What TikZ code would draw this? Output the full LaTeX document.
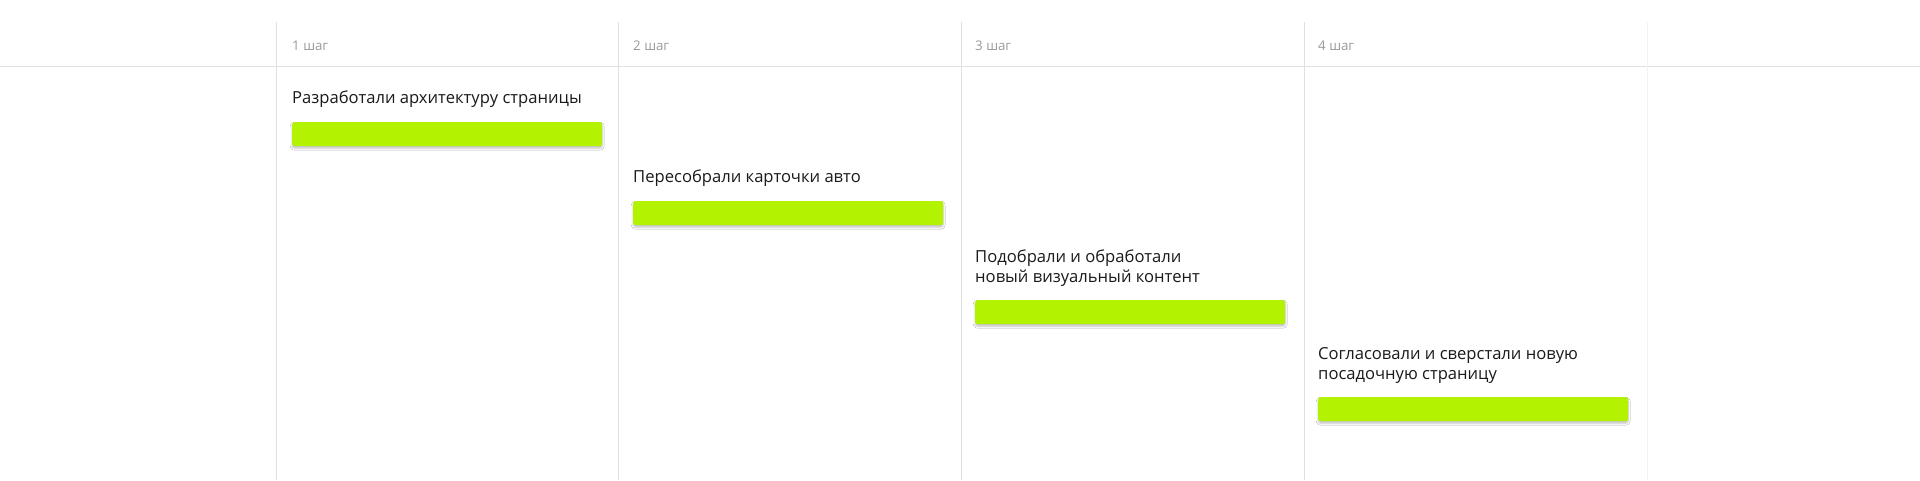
\documentclass[tikz,border=0pt]{standalone}
\usepackage{fontspec}
\setmainfont{Open Sans}
\usetikzlibrary{shadows.blur}
\definecolor{gridc}{HTML}{E0E0E0}
\definecolor{gridl}{HTML}{F2F2F2}
\definecolor{headc}{HTML}{9A9A9A}
\definecolor{textc}{HTML}{1A1A1A}
\definecolor{barc}{HTML}{B3F200}
\tikzset{
  gridline/.style={draw=gridc, line width=1pt},
  gridlight/.style={draw=gridl, line width=1pt},
  head/.style={anchor=base west, inner sep=0pt, text=headc, font=\fontsize{13.3}{16}\selectfont},
  task/.style={anchor=base west, inner sep=0pt, text=textc, align=left, font=\fontsize{16.6}{20}\selectfont},
  bar/.style={anchor=north west, inner sep=0pt, fill=barc, rounded corners=2.5pt,
    minimum width=310pt, minimum height=24pt,
    blur shadow={shadow xshift=0pt, shadow yshift=-2pt, shadow opacity=25, shadow blur steps=6, shadow blur radius=2pt}},
}
\begin{document}
\begin{tikzpicture}[x=1pt, y=-1pt]
\useasboundingbox (0,0) rectangle (1920,480);
\fill[white] (0,0) rectangle (1920,480);
% grid
\draw[gridline] (0,66) -- (1920,66);
\draw[gridline] (276,22) -- (276,480);
\draw[gridline] (618,22) -- (618,480);
\draw[gridline] (961,22) -- (961,480);
\draw[gridline] (1304,22) -- (1304,480);
\draw[gridlight] (1647,22) -- (1647,480);
% headers
\node[head] (h1) at (292,50) {1 шаг};
\node[head] (h2) at (633,50) {2 шаг};
\node[head] (h3) at (975,50) {3 шаг};
\node[head] (h4) at (1318,50) {4 шаг};
% tasks (multi-line nodes: base = last line)
\node[task] (t1) at (292,103) {Разработали архитектуру страницы};
\node[bar] (b1) at (292,122) {};
\node[task] (t2) at (633,182) {Пересобрали карточки авто};
\node[bar] (b2) at (633,201) {};
\node[task] (t3) at (975,282) {Подобрали и обработали\\новый визуальный контент};
\node[bar] (b3) at (975,300) {};
\node[task] (t4) at (1318,379) {Согласовали и сверстали новую\\посадочную страницу};
\node[bar] (b4) at (1318,397) {};
\end{tikzpicture}
\end{document}
